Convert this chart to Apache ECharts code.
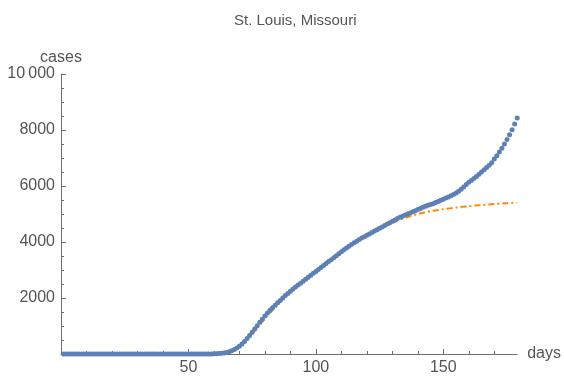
<!DOCTYPE html>
<html>
<head>
<meta charset="utf-8">
<script src="https://cdn.jsdelivr.net/npm/echarts@6/dist/echarts.min.js"></script>
<style>
  html, body { margin: 0; padding: 0; background: #fff; }
  #chart { width: 564px; height: 376px; }
</style>
</head>
<body>
<div id="chart"></div>
<script>
// reported cumulative cases, one value per day starting at day 1
const blueCases = [
  0, 0, 0, 0, 0, 0, 0, 0, 0, 0,
  0, 0, 0, 0, 0, 0, 0, 0, 0, 0,
  0, 0, 0, 0, 0, 0, 0, 0, 0, 0,
  0, 0, 0, 0, 0, 0, 0, 0, 0, 0,
  0, 0, 0, 0, 0, 0, 0, 0, 0, 0,
  0, 0, 0, 0, 0, 0, 0,
  1, 3, 6, 10, 16, 25, 38, 55, 80, 115,
  160, 215, 280, 360, 450, 550, 660, 775, 890, 1010,
  1130, 1245, 1355, 1460, 1560, 1655, 1745, 1830, 1915, 2000,
  2085, 2165, 2245, 2320, 2390, 2460, 2530, 2600, 2670, 2740,
  2810, 2880, 2950, 3020, 3090, 3160, 3230, 3300, 3370, 3440,
  3510, 3580, 3650, 3720, 3790, 3850, 3910, 3970, 4030, 4090,
  4140, 4190, 4240, 4290, 4340, 4390, 4440, 4490, 4540, 4590,
  4640, 4690, 4740, 4790, 4840, 4880, 4920, 4960, 5000, 5040,
  5080, 5120, 5160, 5200, 5240, 5280, 5310, 5340, 5370, 5410,
  5450, 5490, 5530, 5570, 5610, 5650, 5700, 5750, 5810, 5880,
  5960, 6050, 6130, 6200, 6270, 6340, 6420, 6500, 6580, 6660,
  6740, 6830, 6960, 7080, 7210, 7350, 7500, 7660, 7830, 8010,
  8210, 8430
];

const fitDays  = [0, 40, 50, 55, 58, 61, 64, 67, 70, 73, 76, 79, 82, 85, 88, 91, 94, 97, 100,
                  104, 108, 112, 116, 120, 124, 128, 132, 136, 140, 145, 150, 155, 160, 165, 170, 175, 179];
const fitCases = [0, 0, 3, 10, 22, 45, 75, 140, 270, 520, 830, 1160, 1470, 1760, 2030, 2280, 2510, 2720, 2930,
                  3200, 3480, 3760, 4000, 4220, 4420, 4600, 4760, 4890, 5000, 5100, 5170, 5230, 5280, 5320, 5355, 5385, 5405];

const xTicks = [50, 100, 150];
const xMinorTicks = [10, 20, 30, 40, 60, 70, 80, 90, 110, 120, 130, 140, 160, 170];
const yTicks = [2000, 4000, 6000, 8000, 10000];

const axisGray = '#6e6e6e';
const textGray = '#555';
const font = 'Liberation Sans, Arial, sans-serif';

const chart = echarts.init(document.getElementById('chart'));
chart.setOption({
  animation: false,
  title: {
    text: 'St. Louis, Missouri',
    left: 229,
    top: 8,
    textStyle: { fontFamily: font, fontSize: 15, fontWeight: 'normal', color: textGray }
  },
  grid: { left: 61, right: 43, top: 74, bottom: 21 },
  xAxis: [{
    type: 'value',
    min: 0,
    max: 179,
    name: 'days',
    nameLocation: 'end',
    nameGap: 10,
    nameTextStyle: { fontFamily: font, fontSize: 16, color: textGray, verticalAlign: 'middle', padding: [0, 0, 0, 0] },
    splitLine: { show: false },
    axisLine: { lineStyle: { color: axisGray, width: 1 } },
    axisTick: { inside: true, length: 5, lineStyle: { color: axisGray }, customValues: xTicks },
    axisLabel: {
      customValues: xTicks,
      margin: 6,
      fontFamily: font, fontSize: 16, color: textGray
    }
  }, {
    type: 'value',
    min: 0,
    max: 179,
    position: 'bottom',
    splitLine: { show: false },
    axisLine: { show: false },
    axisTick: { inside: true, length: 3, lineStyle: { color: axisGray }, customValues: xMinorTicks },
    axisLabel: { show: false }
  }],
  yAxis: {
    type: 'value',
    min: 0,
    max: 10000,
    interval: 2000,
    name: 'cases',
    nameLocation: 'end',
    nameGap: 8,
    nameTextStyle: { fontFamily: font, fontSize: 16, color: textGray, align: 'center' },
    splitLine: { show: false },
    axisLine: { show: true, lineStyle: { color: axisGray, width: 1 } },
    axisTick: { show: true, inside: true, length: 5, lineStyle: { color: axisGray } },
    minorTick: { show: true, splitNumber: 4, length: 3, lineStyle: { color: axisGray } },
    axisLabel: {
      customValues: yTicks,
      margin: 6,
      fontFamily: font, fontSize: 16, color: textGray,
      formatter: v => v >= 10000 ? String(v).slice(0, -3) + '\u2009' + String(v).slice(-3) : String(v)
    }
  },
  series: [{
    type: 'line',
    data: fitDays.map((d, i) => [d, fitCases[i]]),
    smooth: 0.3,
    showSymbol: false,
    lineStyle: { color: '#ff8800', width: 2, type: [6, 3, 2, 3] },
    z: 1
  }, {
    type: 'scatter',
    data: blueCases.map((v, i) => [i + 1, v]),
    symbol: 'circle',
    symbolSize: 5,
    clip: false,
    itemStyle: { color: '#5e81b5', opacity: 1 },
    z: 2
  }]
});
</script>
</body>
</html>
